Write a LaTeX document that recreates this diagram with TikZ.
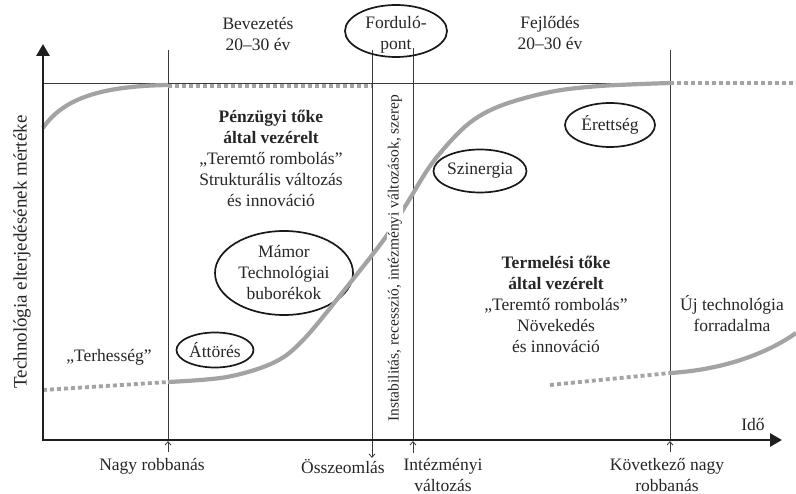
\documentclass[tikz,border=0pt]{standalone}
\usepackage{fontspec}
\setmainfont{Liberation Serif}
\usetikzlibrary{arrows.meta,shapes.geometric}
\definecolor{tcol}{HTML}{262626}
\definecolor{lcol}{HTML}{3A3A3A}
\definecolor{gcol}{HTML}{A3A3A3}
\begin{document}
\begin{tikzpicture}[x=1pt,y=-1pt,
  txt/.style={text=tcol, font=\fontsize{17.5}{21}\selectfont, align=center, inner sep=0pt},
  oval/.style={draw=black!90, line width=1.7pt, ellipse, inner sep=0pt, text=tcol,
     font=\fontsize{17.5}{21}\selectfont, align=center},
  thinline/.style={draw=lcol, line width=0.9pt},
  axisline/.style={draw=black!88, line width=2.8pt, -{Triangle[length=12pt,width=13pt]}},
  gcurve/.style={draw=gcol, line width=4.2pt},
  gdash/.style={draw=gcol, line width=3.8pt, dash pattern=on 4pt off 3pt},
  tick/.style={draw=lcol, line width=0.8pt, -{Straight Barb[length=3.5pt,width=6pt]}}
]
\useasboundingbox (0,0) rectangle (796,494);

% frame coordinates
\coordinate (o) at (43,440);
\coordinate (ytop) at (43,44);
\coordinate (xend) at (782,440);
\coordinate (tl) at (43,83);
\coordinate (tr) at (670,83);
\coordinate (v1t) at (168,50);  \coordinate (v1b) at (168,440);
\coordinate (v2t) at (372,50);  \coordinate (v2b) at (372,440);
\coordinate (v3t) at (413,48);  \coordinate (v3b) at (413,440);
\coordinate (v4t) at (670,50);  \coordinate (v4b) at (670,440);

% thin lines
\draw[thinline] (tl) -- (tr);
\draw[thinline] (v1t) -- (v1b);
\draw[thinline] (v2t) -- (v2b);
\draw[thinline] (v3t) -- (v3b);
\draw[thinline] (v4t) -- (v4b);

% ovals
\node[oval, minimum width=102pt, minimum height=52pt] (ford) at (396,31) {};
\node[txt] (fordt) at (396,35) {Forduló-\\pont};
\node[oval, minimum width=138pt, minimum height=84pt] (mamor) at (284,273) {Mámor\\Technológiai\\buborékok};
\node[oval, minimum width=77pt, minimum height=35pt] (attores) at (215,350) {Áttörés};
\node[oval, minimum width=91pt, minimum height=43pt] (szin) at (480,171) {Szinergia};
\node[oval, minimum width=90pt, minimum height=44pt] (eret) at (610,125) {Érettség};

% gray curves
\draw[gcurve] (43,128) .. controls (65,95) and (110,86) .. (168,85);
\draw[gdash] (168,86) -- (372,86);
\draw[gdash] (43,390) -- (168,382);
\draw[gcurve] plot[smooth, tension=0.55] coordinates {(168,382) (227,377) (275,362) (305,338) (350,283) (385,238) (406,205) (433,162) (467,125) (500,106) (550,92) (600,86) (670,83)};
\draw[gdash] (670,83) -- (796,83);
\draw[gdash] (550,385) -- (670,373);
\draw[gcurve] (670,373) .. controls (720,370) and (765,355) .. (796,333);

% rotated band text
\node[rotate=90, fill=white, inner xsep=2pt, inner ysep=1pt, text=tcol,
  font=\fontsize{15.5}{18}\selectfont] (instab) at (395,258)
  {Instabilitás, recesszió, intézményi változások, szerep};

% texts
\node[txt] (bev) at (258,34) {Bevezetés\\20–30 év};
\node[txt] (fej) at (550,33) {Fejlődés\\20–30 év};
\node[txt] (penz) at (271,158) {\textbf{Pénzügyi tőke}\\\textbf{által vezérelt}\\„Teremtő rombolás”\\Strukturális változás\\és innováció};
\node[txt] (term) at (556,304) {\textbf{Termelési tőke}\\\textbf{által vezérelt}\\„Teremtő rombolás”\\Növekedés\\és innováció};
\node[txt] (uj) at (732,314) {Új technológia\\forradalma};
\node[txt] (terh) at (109,357) {„Terhesség”};
\node[txt] (ido) at (753,425) {Idő};
\node[txt] (nagy) at (152,466) {Nagy robbanás};
\node[txt] (ossz) at (343,466) {Összeomlás};
\node[txt] (intez) at (443,475) {Intézményi\\változás};
\node[txt] (kov) at (667,475) {Következő nagy\\robbanás};
\node[txt, rotate=90, font=\fontsize{19}{22}\selectfont] (ylab) at (22,252) {Technológia elterjedésének mértéke};

% small tick arrows
\coordinate (a1) at (168,452); \coordinate (a1t) at (168,441);
\coordinate (a2) at (372,441); \coordinate (a2t) at (372,458);
\coordinate (a3) at (413,453); \coordinate (a3t) at (413,441);
\coordinate (a4) at (670,452); \coordinate (a4t) at (670,441);
\draw[tick] (a1) -- (a1t);
\draw[tick] (a2) -- (a2t);
\draw[tick] (a3) -- (a3t);
\draw[tick] (a4) -- (a4t);

% axes
\draw[axisline] ([yshift=1.4pt]o) -- (ytop);
\draw[axisline] ([xshift=-1.4pt]o) -- (xend);
\end{tikzpicture}
\end{document}
